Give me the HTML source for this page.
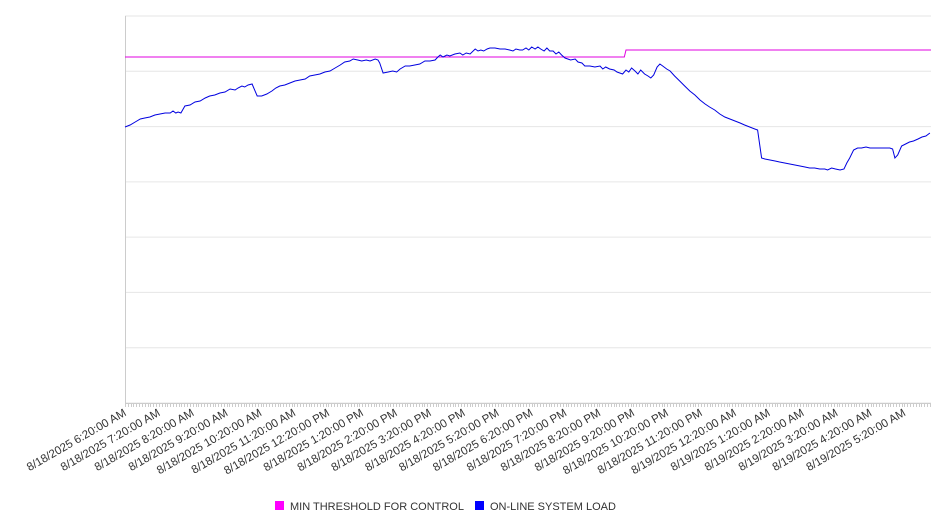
<!DOCTYPE html>
<html><head><meta charset="utf-8"><style>
body{margin:0;background:#fff;font-family:"Liberation Sans","DejaVu Sans",sans-serif;}
svg{display:block}
</style></head><body>
<svg id="chart" width="946" height="526" xmlns="http://www.w3.org/2000/svg"></svg>
<script>
const timeMinutes=[0,9,18,27,35,44,53,62,71,80,85,90,94,99,106,115,124,133,142,150,159,168,177,186,195,200,207,212,218,225,234,242,251,260,267,274,283,292,301,310,319,327,336,345,354,363,372,381,389,398,404,412,419,427,434,443,448,451,457,466,474,481,487,496,504,513,522,531,540,549,554,558,563,570,575,584,593,598,604,611,620,625,630,635,641,646,655,664,673,681,687,692,699,704,710,715,720,726,731,736,742,747,752,758,763,768,773,779,784,789,797,802,809,814,823,832,841,846,851,858,866,871,876,881,887,892,897,903,908,913,920,926,931,936,942,947,952,959,965,973,982,991,1000,1009,1018,1027,1035,1044,1053,1062,1071,1080,1089,1097,1106,1115,1120,1127,1133,1142,1151,1159,1168,1177,1186,1195,1204,1212,1221,1230,1239,1244,1251,1258,1266,1273,1278,1283,1290,1297,1304,1312,1319,1328,1336,1345,1354,1359,1363,1368,1375,1382,1389,1396,1404,1411,1418,1425];
const loadValues=[2760,2780,2810,2840,2850,2860,2880,2890,2900,2900,2920,2900,2910,2900,2970,2980,3010,3020,3050,3070,3080,3100,3110,3140,3130,3150,3170,3160,3180,3190,3070,3070,3090,3120,3150,3170,3180,3200,3220,3230,3240,3270,3280,3290,3310,3320,3350,3380,3410,3420,3440,3430,3420,3430,3420,3440,3430,3400,3300,3310,3320,3310,3340,3370,3370,3380,3390,3420,3420,3430,3460,3480,3460,3480,3470,3490,3500,3480,3500,3490,3540,3520,3530,3520,3540,3550,3550,3540,3540,3530,3520,3540,3530,3530,3550,3530,3560,3540,3560,3540,3520,3550,3520,3520,3490,3510,3480,3450,3440,3430,3440,3410,3400,3370,3370,3360,3370,3340,3360,3340,3330,3310,3300,3290,3330,3310,3350,3320,3290,3330,3290,3270,3250,3280,3360,3390,3370,3340,3320,3270,3220,3170,3120,3080,3030,2990,2960,2930,2890,2860,2840,2820,2800,2780,2760,2740,2730,2450,2440,2430,2420,2410,2400,2390,2380,2370,2360,2350,2350,2340,2340,2330,2350,2340,2330,2340,2400,2450,2530,2550,2550,2560,2550,2550,2550,2550,2550,2540,2450,2480,2570,2590,2610,2620,2640,2660,2670,2700];
const thresholdMinutes=[0,884,887,1427];
const thresholdValues=[3460,3460,3530,3530];
const tickLabels=["8/18/2025 6:20:00 AM","8/18/2025 7:20:00 AM","8/18/2025 8:20:00 AM","8/18/2025 9:20:00 AM","8/18/2025 10:20:00 AM","8/18/2025 11:20:00 AM","8/18/2025 12:20:00 PM","8/18/2025 1:20:00 PM","8/18/2025 2:20:00 PM","8/18/2025 3:20:00 PM","8/18/2025 4:20:00 PM","8/18/2025 5:20:00 PM","8/18/2025 6:20:00 PM","8/18/2025 7:20:00 PM","8/18/2025 8:20:00 PM","8/18/2025 9:20:00 PM","8/18/2025 10:20:00 PM","8/18/2025 11:20:00 PM","8/19/2025 12:20:00 AM","8/19/2025 1:20:00 AM","8/19/2025 2:20:00 AM","8/19/2025 3:20:00 AM","8/19/2025 4:20:00 AM","8/19/2025 5:20:00 AM"];
const tickMinutes=[0,60,120,180,240,300,360,420,480,540,600,660,720,780,840,900,960,1020,1080,1140,1200,1260,1320,1380];

const NS="http://www.w3.org/2000/svg";
const svg=document.getElementById('chart');
const L=125,R=931,T=16,B=403,xMax=1427,yMax=3870;
const xs=m=>L+m/xMax*(R-L);
const ys=v=>B-v/yMax*(B-T);
function mk(tag,attrs,parent){const e=document.createElementNS(NS,tag);for(const k in attrs)e.setAttribute(k,attrs[k]);(parent||svg).appendChild(e);return e;}

for(let i=0;i<=7;i++){
  const y=T+i*(B-T)/7;
  const g=mk('line',{x1:L,x2:R,y1:y,y2:y,stroke:'#e6e6e6','stroke-width':1});
  
  
}
const ya=mk('line',{x1:L+0.5,x2:L+0.5,y1:T,y2:B,stroke:'#ccc'});


const xa=mk('line',{x1:L,x2:R,y1:B+0.5,y2:B+0.5,stroke:'#ccc'});


for(let m=0;m<=xMax;m+=5){
  const x=Math.round(xs(m))+0.5;
  const t=mk('line',{x1:x,x2:x,y1:B,y2:B+4,stroke:'#ccc'});
  
  
}
tickLabels.forEach((lab,i)=>{
  const x=xs(tickMinutes[i]);
  const t=mk('text',{x:x+2,y:B+12,'text-anchor':'end','font-size':'11.5',fill:'#333',transform:`rotate(-30 ${x+2} ${B+12})`});
  t.textContent=lab;
  
  
});
function path(xsA,vsA,color,name){
  const d=xsA.map((m,i)=>(i?'L':'M')+xs(m).toFixed(1)+' '+ys(vsA[i]).toFixed(1)).join(' ');
  const p=mk('path',{d,fill:'none',stroke:color,'stroke-width':1});
  
  
}
path(thresholdMinutes,thresholdValues,'#e000e0','min-threshold-line');
path(timeMinutes,loadValues,'#0000e0','online-system-load-line');

const lg=mk('g',{});


const items=[['MIN THRESHOLD FOR CONTROL','#ff00ff',275],['ON-LINE SYSTEM LOAD','#0000ff',475]];
items.forEach(([lab,c,x])=>{
  const r=mk('rect',{x:x,y:501,width:9,height:9,fill:c},lg);
  
  
  const t=mk('text',{x:x+15,y:510,'font-size':'11',fill:'#333'},lg);
  t.textContent=lab;
  
  
});
</script>
</body></html>
